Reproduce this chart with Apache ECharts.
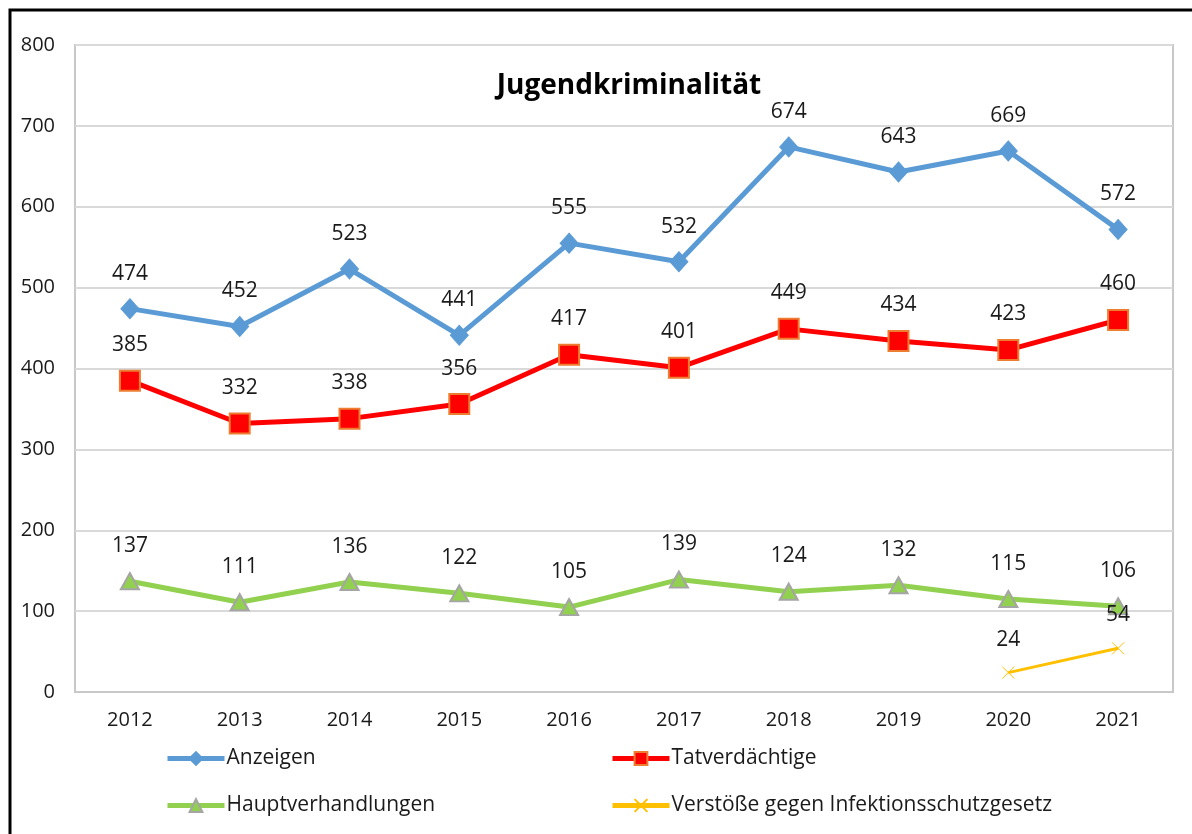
<!DOCTYPE html>
<html>
<head>
<meta charset="utf-8">
<script src="https://cdn.jsdelivr.net/npm/echarts@6/dist/echarts.min.js"></script>
<style>
  html, body { margin: 0; padding: 0; background: #fff; }
  #chart { width: 1192px; height: 834px; }
</style>
</head>
<body>
<div id="chart"></div>
<script>
var years = ['2012','2013','2014','2015','2016','2017','2018','2019','2020','2021'];
var anzeigen = [474, 452, 523, 441, 555, 532, 674, 643, 669, 572];
var tatverdaechtige = [385, 332, 338, 356, 417, 401, 449, 434, 423, 460];
var hauptverhandlungen = [137, 111, 136, 122, 105, 139, 124, 132, 115, 106];
var infektionsschutz = [null, null, null, null, null, null, null, null, 24, 54];
var yTicks = [0, 100, 200, 300, 400, 500, 600, 700, 800];

var font = '"Open Sans", Lato, sans-serif';
var mychart = echarts.init(document.getElementById('chart'));

function labelCfg(dist) {
    return {
        show: true,
        position: 'top',
        distance: dist,
        color: '#1a1a1a',
        fontSize: 21,
        fontFamily: font
    };
}

function legendAt(name, left, top) {
    return {
        data: [name],
        left: left,
        top: top,
        padding: 0,
        itemWidth: 57,
        itemHeight: 16,
        itemGap: 0,
        lineStyle: { width: 5 },
        textStyle: { color: '#1a1a1a', fontSize: 21, fontFamily: font, padding: [0, 0, 0, -3] },
        selectedMode: false
    };
}

var option = {
    backgroundColor: '#fff',
    animation: false,
    title: {
        text: 'Jugendkriminalität',
        left: 624,
        textAlign: 'center',
        top: 67,
        textStyle: { fontSize: 28, fontWeight: 'bold', color: '#000', fontFamily: font }
    },
    legend: [
        legendAt('Anzeigen', 165, 748),
        legendAt('Tatverdächtige', 610, 748),
        legendAt('Hauptverhandlungen', 165, 795),
        legendAt('Verstöße gegen Infektionsschutzgesetz', 610, 795)
    ],
    grid: {
        left: 75,
        top: 45,
        right: 19,
        bottom: 142,
        show: true,
        borderColor: '#c8c8c8',
        borderWidth: 2
    },
    xAxis: {
        type: 'category',
        boundaryGap: true,
        data: years,
        axisLabel: { color: '#1a1a1a', fontSize: 20, fontFamily: font, margin: 18 },
        axisTick: { show: false },
        axisLine: { show: true, lineStyle: { color: '#c8c8c8', width: 2 } }
    },
    yAxis: {
        type: 'value',
        min: yTicks[0],
        max: yTicks[yTicks.length - 1],
        interval: 100,
        axisLabel: { color: '#1a1a1a', fontSize: 20, fontFamily: font, margin: 20 },
        axisLine: { show: false },
        axisTick: { show: false },
        splitLine: { lineStyle: { color: '#d9d9d9', width: 2 } }
    },
    graphic: [{
        type: 'rect',
        shape: { x: 10, y: 10, width: 1300, height: 1000 },
        style: { fill: 'none', stroke: '#000', lineWidth: 3 },
        silent: true
    }],
    series: [
        {
            name: 'Anzeigen',
            type: 'line',
            data: anzeigen,
            symbol: 'diamond',
            symbolSize: [18, 20],
            lineStyle: { color: '#5b9bd5', width: 5 },
            itemStyle: { color: '#5b9bd5', borderColor: '#5b9bd5', borderWidth: 1 },
            label: labelCfg(14)
        },
        {
            name: 'Tatverdächtige',
            type: 'line',
            data: tatverdaechtige,
            symbol: 'rect',
            symbolSize: 20,
            lineStyle: { color: '#ff0000', width: 5 },
            itemStyle: { color: '#ff0000', borderColor: '#ed7d31', borderWidth: 2 },
            label: labelCfg(14)
        },
        {
            name: 'Hauptverhandlungen',
            type: 'line',
            data: hauptverhandlungen,
            symbol: 'triangle',
            symbolSize: [18, 16],
            lineStyle: { color: '#92d050', width: 5 },
            itemStyle: { color: '#92d050', borderColor: '#a5a5a5', borderWidth: 2 },
            label: labelCfg(16)
        },
        {
            name: 'Verstöße gegen Infektionsschutzgesetz',
            type: 'line',
            data: infektionsschutz,
            connectNulls: false,
            symbol: 'path://M0,0 L10,10 M10,0 L0,10',
            symbolSize: 12,
            lineStyle: { color: '#ffc000', width: 3 },
            itemStyle: { color: '#ffc000', borderColor: '#ffc000', borderWidth: 1 },
            label: labelCfg(16)
        }
    ]
};
mychart.setOption(option);
</script>
</body>
</html>
